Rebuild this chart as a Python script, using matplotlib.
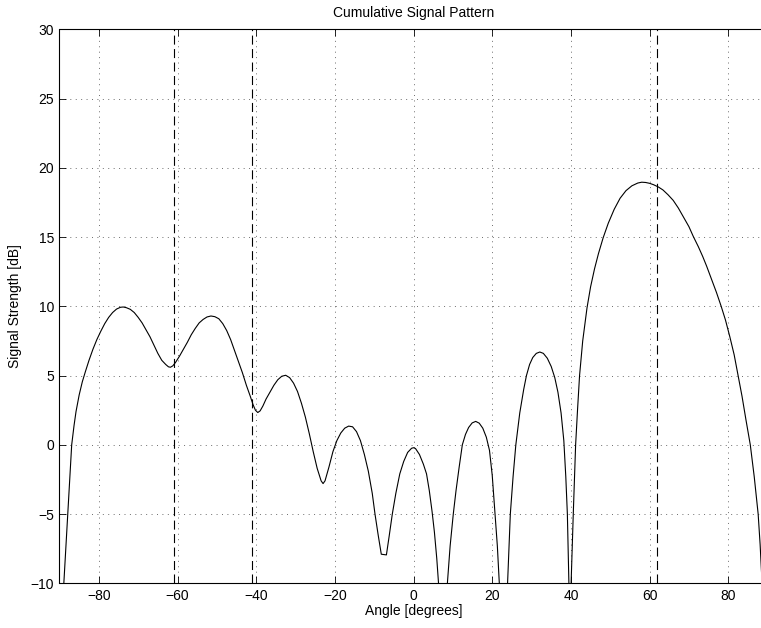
import matplotlib
matplotlib.use("Agg")
import matplotlib.pyplot as plt

plt.rcParams['font.family'] = ['Liberation Sans', 'DejaVu Sans']
plt.rcParams['lines.scale_dashes'] = False

# pattern (angle in degrees, level in dB)
# values under -10 are only there so the nulls run off the bottom
angle = [-89.6, -88.9, -88.4, -87.9, -87.4, -86.9, -86.3, -85.8, -85.0, -84.2,
         -83.4, -82.5, -81.5, -80.5, -79.5, -78.5, -77.5, -76.5, -75.5, -74.5,
         -73.8, -73.0, -72.0, -71.0, -70.0, -69.0, -68.0, -67.0, -66.0, -65.0,
         -64.0, -63.0, -62.3, -61.8, -61.2, -60.5, -59.5, -58.5, -57.5, -56.5,
         -55.5, -54.5, -53.5, -52.5, -51.5, -50.5, -49.5, -48.5, -47.5, -46.5,
         -45.5, -44.5, -43.5, -42.5, -41.5, -40.8, -40.2, -39.6, -39.0, -38.3,
         -37.5, -36.5, -35.5, -34.5, -33.5, -32.5, -31.5, -30.5, -29.5, -28.5,
         -27.5, -26.5, -25.5, -24.5, -23.5, -23.0, -22.5, -21.5, -20.5, -19.5,
         -18.5, -17.5, -16.5, -15.5, -14.5, -13.5, -12.5, -11.5, -10.5, -9.8,
         -9.0, -8.2, -6.9, -6.2, -5.4, -4.5, -3.5, -2.5, -1.5, -0.5,
         0.0, 0.5, 1.5, 2.5, 3.3, 4.0, 4.7, 5.3, 5.9, 6.35,
         7.4, 8.6, 9.3, 10.1, 10.8, 11.6, 12.4, 13.2, 14.0, 14.9,
         15.8, 16.7, 17.6, 18.5, 19.3, 20.0, 20.7, 21.3, 21.8, 22.8,
         23.9, 24.6, 25.3, 26.0, 27.0, 28.0, 28.7, 29.5, 30.3, 31.2,
         32.1, 33.0, 34.0, 35.0, 35.9, 36.7, 37.5, 38.2, 38.7, 39.1,
         39.5, 39.8, 40.05, 40.6, 41.2, 41.7, 42.2, 43.0, 44.1, 45.0,
         46.0, 47.0, 48.2, 49.5, 51.0, 52.5, 54.0, 55.5, 57.0, 58.0,
         59.0, 60.0, 61.0, 62.2, 63.4, 64.7, 66.0, 67.3, 68.6, 70.0,
         71.1, 72.4, 73.5, 74.5, 75.8, 77.0, 78.2, 79.3, 80.4, 81.5,
         82.5, 83.5, 84.5, 85.6, 86.6, 87.6, 88.1, 88.6, 89.2]
level = [-14.0, -10.0, -7.5, -5.0, -2.4, 0.0, 1.4, 2.4, 3.6, 4.55,
         5.3, 6.1, 6.9, 7.6, 8.2, 8.75, 9.2, 9.55, 9.8, 9.93,
         9.95, 9.9, 9.78, 9.55, 9.2, 8.8, 8.3, 7.8, 7.2, 6.6,
         6.1, 5.8, 5.63, 5.6, 5.7, 5.95, 6.4, 6.9, 7.4, 7.95,
         8.4, 8.8, 9.05, 9.23, 9.3, 9.25, 9.1, 8.75, 8.25, 7.6,
         6.8, 6.0, 5.2, 4.3, 3.5, 2.9, 2.5, 2.33, 2.45, 2.8,
         3.3, 3.8, 4.3, 4.7, 4.95, 5.02, 4.85, 4.45, 3.85, 3.0,
         2.0, 0.8, -0.5, -1.7, -2.6, -2.8, -2.6, -1.6, -0.5, 0.3,
         0.85, 1.2, 1.35, 1.3, 0.95, 0.3, -0.7, -1.9, -3.5, -5.0,
         -6.5, -7.9, -7.95, -6.6, -5.0, -3.5, -2.1, -1.2, -0.55, -0.25,
         -0.21, -0.27, -0.7, -1.4, -2.1, -3.3, -4.8, -6.3, -8.2, -10.0,
         -14.0, -10.0, -7.3, -5.0, -3.3, -1.6, 0.0, 0.75, 1.25, 1.58,
         1.69, 1.56, 1.2, 0.55, -0.4, -2.2, -5.0, -7.3, -10.0, -14.0,
         -10.0, -5.0, -2.3, 0.0, 2.3, 4.0, 5.0, 5.8, 6.3, 6.6,
         6.7, 6.6, 6.25, 5.65, 4.85, 3.8, 2.3, 0.3, -2.3, -5.0,
         -10.0, -14.0, -10.0, -5.0, 0.0, 2.6, 5.0, 7.5, 9.9, 11.4,
         12.7, 13.8, 14.95, 16.0, 17.0, 17.8, 18.35, 18.7, 18.9, 18.96,
         18.94, 18.88, 18.78, 18.62, 18.4, 18.05, 17.65, 17.1, 16.45, 15.75,
         15.05, 14.3, 13.6, 12.9, 11.9, 11.0, 10.0, 9.0, 7.8, 6.5,
         5.0, 3.5, 1.8, 0.0, -2.3, -5.0, -7.2, -10.0, -14.0]

# dashed marker lines
marker_angles = [-61, -41, 62]

x_ticks = [-80, -60, -40, -20, 0, 20, 40, 60, 80]
y_ticks = [-10, -5, 0, 5, 10, 15, 20, 25, 30]

W, H = 761, 628
fig = plt.figure(figsize=(W / 100, H / 100), dpi=100)
# axes runs a little past the right edge of the picture, as in the reference
ax = fig.add_axes([59.5 / W, 1 - 583.3 / H, (767.6 - 59.5) / W, (583.3 - 29.3) / H])

ax.plot(angle, level, color='k', linewidth=0.8)
for a in marker_angles:
    ax.axvline(a, color='k', linewidth=0.8, dashes=(6.5, 3.2))

ax.set_xlim(-90, 90)
ax.set_ylim(-10, 30)
ax.set_xticks(x_ticks)
ax.set_yticks(y_ticks)
ax.grid(True, color='k', linewidth=0.5, dashes=(0.7, 3.2), alpha=0.8)
ax.tick_params(direction='in', length=5, width=0.6, top=True, right=True,
               labelsize=10, pad=4)
for s in ax.spines.values():
    s.set_linewidth(0.8)

ax.set_title('Cumulative Signal Pattern', fontsize=10, pad=9)
ax.set_xlabel('Angle [degrees]', fontsize=10, labelpad=1)
ax.set_ylabel('Signal Strength [dB]', fontsize=10, labelpad=6)

fig.savefig('out.png', dpi=100)
